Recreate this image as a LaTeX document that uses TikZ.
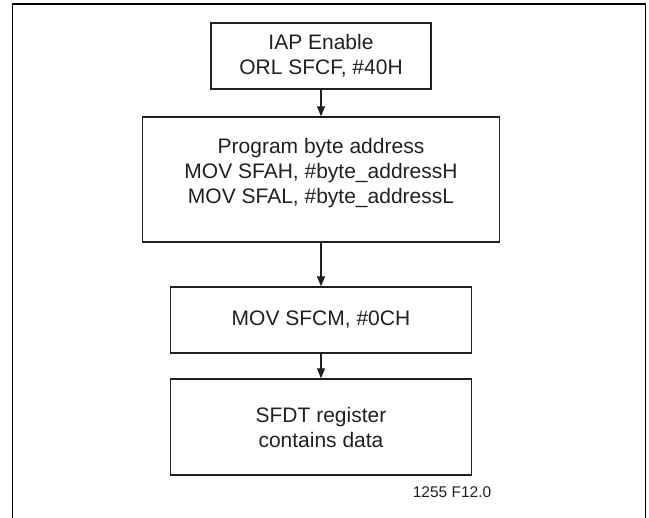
\documentclass[tikz,border=0pt]{standalone}
\usepackage{fontspec}
\setmainfont{Liberation Sans}
\usetikzlibrary{arrows.meta}
\definecolor{ink}{HTML}{231F20}
\begin{document}
\begin{tikzpicture}[x=1pt,y=-1pt,
  box/.style={draw=ink, line width=1.4pt, rectangle, inner sep=0pt},
  txt/.style={font=\fontsize{21}{25}\selectfont, align=center, text=ink, inner sep=0pt},
  small/.style={font=\fontsize{15.5}{18}\selectfont, text=ink, inner sep=0pt},
  flow/.style={draw=ink, line width=1.1pt, -{Triangle[length=10pt,width=8pt]}}]
\useasboundingbox (0,0) rectangle (649,518);
\draw[line width=1.8pt] (12.5,522) -- (12.5,4) -- (645.5,4) -- (645.5,522);

\node[box, minimum width=220pt, minimum height=66pt] (b1) at (321,56) {};
\node[box, minimum width=357pt, minimum height=125pt] (b2) at (321,179.5) {};
\node[box, minimum width=301pt, minimum height=66pt] (b3) at (321,320) {};
\node[box, minimum width=301pt, minimum height=96pt] (b4) at (321,427) {};

\node[txt] (t1) at (321,56) {IAP Enable\\ORL SFCF, \#40H};
\node[txt] (t2) at (321,173) {Program byte address\\MOV SFAH, \#byte\_addressH\\MOV SFAL, \#byte\_addressL};
\node[txt] (t3) at (321,320) {MOV SFCM, \#0CH};
\node[txt] (t4) at (321,427) {SFDT register\\contains data};

\node[small] (lab) at (452,492) {1255 F12.0};

\draw[flow] (b1.south) -- (b2.north);
\draw[flow] (b2.south) -- (b3.north);
\draw[flow] (b3.south) -- (b4.north);
\end{tikzpicture}
\end{document}
